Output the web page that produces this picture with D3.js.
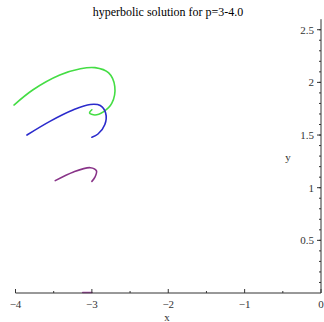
<!DOCTYPE html>
<html>
<head>
<meta charset="utf-8">
<script src="https://cdn.jsdelivr.net/npm/d3@7"></script>
<style>
  body { margin: 0; background: #fff; }
  svg { display: block; font-family: "Liberation Serif", "DejaVu Serif", serif; }
</style>
</head>
<body>
<div id="chart"></div>
<script>
const width = 324;
const height = 322;

// curves: [x, y]
const green = [[-4.02, 1.785], [-3.77, 1.93], [-3.42, 2.07], [-3.15, 2.13], [-2.96, 2.14],
  [-2.78, 2.09], [-2.70, 1.96], [-2.74, 1.80], [-2.85, 1.72], [-2.96, 1.69], [-3.03, 1.71], [-3.00, 1.74]];
const blue = [[-3.85, 1.50], [-3.55, 1.63], [-3.24, 1.74], [-3.02, 1.79], [-2.89, 1.78],
  [-2.82, 1.71], [-2.83, 1.60], [-2.92, 1.51], [-3.00, 1.48]];
const purple = [[-3.48, 1.067], [-3.24, 1.15], [-3.02, 1.19], [-2.94, 1.16], [-2.96, 1.10], [-3.00, 1.06]];
const purpleTail = [[-3.12, 0.005], [-3.0, 0.005]];

const series = [
  { pts: green, color: "#44dd44" },
  { pts: blue, color: "#2b2bcc" },
  { pts: purple, color: "#883388" },
  { pts: purpleTail, color: "#aa44aa" }
];

const xTicks = [-4, -3, -2, -1, 0];
const xMinor = [-3.5, -2.5, -1.5, -0.5];
const yTicks = [0.5, 1, 1.5, 2, 2.5];

const x = d3.scaleLinear().domain([-4, 0]).range([15.5, 321]);
const y = d3.scaleLinear().domain([0, 2.6]).range([293, 19.2]);

const svg = d3.select("#chart").append("svg")
    .attr("width", width)
    .attr("height", height);

svg.append("text")
    .attr("x", 168).attr("y", 16)
    .attr("text-anchor", "middle")
    .style("font-size", "12px")
    .text("hyperbolic solution for p=3-4.0");

const line = d3.line()
    .x(d => x(d[0]))
    .y(d => y(d[1]))
    .curve(d3.curveCatmullRom.alpha(0.5));

svg.append("g")
  .selectAll("path")
  .data(series)
  .join("path")
    .attr("fill", "none")
    .attr("stroke", d => d.color)
    .attr("stroke-width", 1.6)
    .attr("stroke-linecap", "round")
    .attr("d", d => line(d.pts));

// x axis, ticks pointing up
const xAxis = svg.append("g").attr("transform", `translate(0,${y(0)})`);
xAxis.append("line")
    .attr("x1", x(-4)).attr("x2", x(0))
    .attr("stroke", "#333");
xAxis.selectAll(".major")
  .data(xTicks)
  .join("line")
    .attr("x1", d => x(d)).attr("x2", d => x(d))
    .attr("y1", 0).attr("y2", -4)
    .attr("stroke", "#333");
xAxis.selectAll(".minor")
  .data(xMinor)
  .join("line")
    .attr("x1", d => x(d)).attr("x2", d => x(d))
    .attr("y1", 0).attr("y2", -2)
    .attr("stroke", "#333");
xAxis.selectAll("text")
  .data(xTicks)
  .join("text")
    .attr("x", d => x(d))
    .attr("y", 15)
    .attr("text-anchor", "middle")
    .style("font-size", "11px")
    .attr("fill", "#333")
    .text(d => d < 0 ? "\u2212" + Math.abs(d) : d);

svg.append("text")
    .attr("x", 167).attr("y", 321)
    .attr("text-anchor", "middle")
    .style("font-size", "11px")
    .attr("fill", "#333")
    .text("x");

// y axis at x=0, ticks pointing left
const yAxis = svg.append("g").attr("transform", `translate(${x(0)},0)`);
yAxis.append("line")
    .attr("y1", y(0)).attr("y2", y(2.6))
    .attr("stroke", "#333");
yAxis.selectAll(".minor")
  .data(d3.range(1, 26).map(i => i / 10))
  .join("line")
    .attr("y1", d => y(d)).attr("y2", d => y(d))
    .attr("x1", 0).attr("x2", -2)
    .attr("stroke", "#333");
yAxis.selectAll(".major")
  .data(yTicks)
  .join("line")
    .attr("y1", d => y(d)).attr("y2", d => y(d))
    .attr("x1", 0).attr("x2", -4)
    .attr("stroke", "#333");
yAxis.selectAll("text")
  .data(yTicks)
  .join("text")
    .attr("x", -7)
    .attr("y", d => y(d) + 4)
    .attr("text-anchor", "end")
    .style("font-size", "11px")
    .attr("fill", "#333")
    .text(d => d);

svg.append("text")
    .attr("x", 288).attr("y", 161)
    .attr("text-anchor", "middle")
    .style("font-size", "11px")
    .attr("fill", "#333")
    .text("y");
</script>
</body>
</html>
